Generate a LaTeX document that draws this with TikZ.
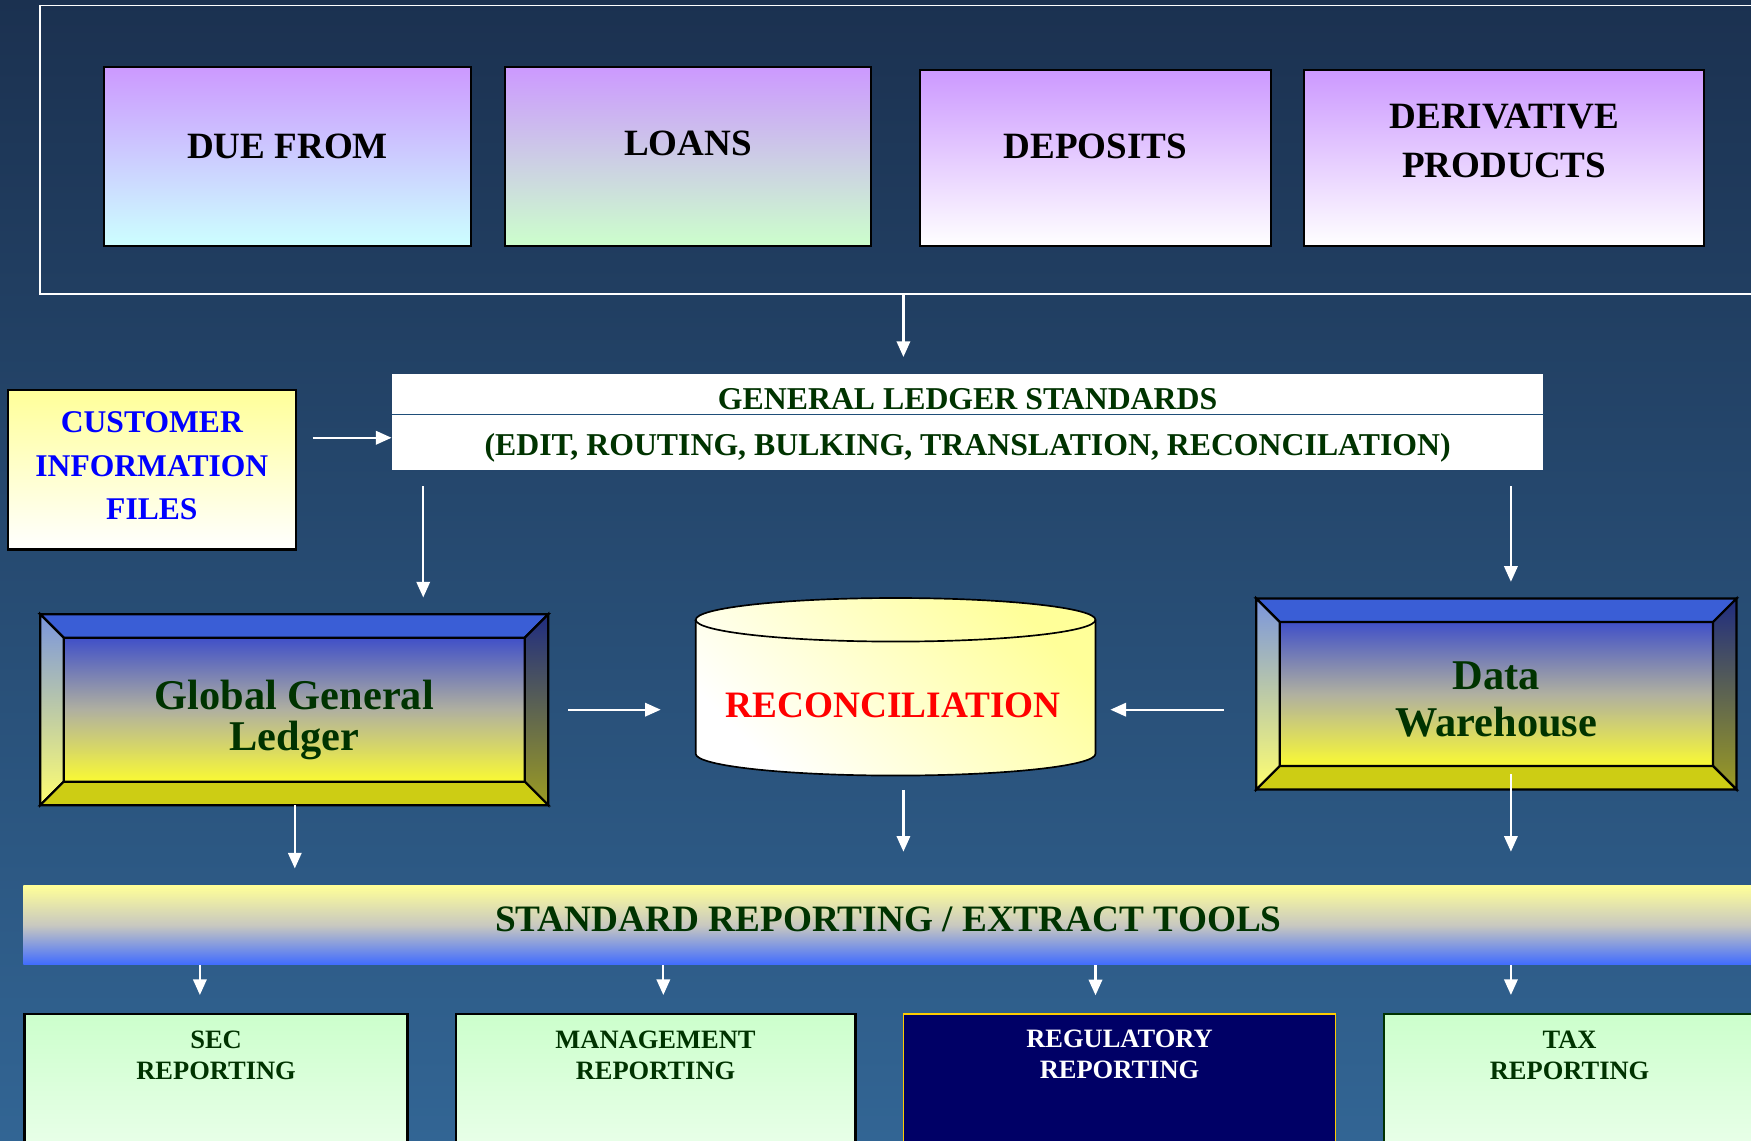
\documentclass[tikz,border=0pt]{standalone}
\usepackage{fontspec}
\setmainfont{Liberation Serif}
\usetikzlibrary{arrows.meta}

\definecolor{bgtop}{HTML}{1B3150}
\definecolor{bgbot}{HTML}{326594}
\definecolor{lilac}{HTML}{CC99FF}
\definecolor{ltcyan}{HTML}{CCFFFF}
\definecolor{ltgreen}{HTML}{CCFFCC}
\definecolor{ltyellow}{HTML}{FFFF99}
\definecolor{txtgreen}{HTML}{003300}
\definecolor{navy}{HTML}{000066}
\definecolor{gold}{HTML}{FFCC00}
\definecolor{splitline}{HTML}{1F4E79}
\definecolor{bevblue}{HTML}{3A5ED6}
\definecolor{bevlight}{HTML}{7A95DD}
\definecolor{bevdark}{HTML}{1F2C80}
\definecolor{bevolive}{HTML}{9C9C22}
\definecolor{bevyellow}{HTML}{FFFF70}
\definecolor{bevbottom}{HTML}{CDCD14}
\definecolor{innerblue}{HTML}{4050C8}
\definecolor{innermid}{HTML}{B0B0A0}
\definecolor{inneryellow}{HTML}{FAFA33}
\definecolor{barblue}{HTML}{3F6BFF}
\definecolor{barmid}{HTML}{C8C8C0}

\begin{document}
\begin{tikzpicture}[x=0.2mm, y=-0.2mm,
  arr/.style={draw=white, line width=0.4mm, -{Triangle[width=2.4mm,length=2.8mm]}},
  frame/.style={draw=white, line width=0.3mm, minimum width=312.8mm, minimum height=51.6mm},
  topbox/.style={draw=black, line width=0.4mm, top color=lilac, inner sep=0pt, align=center,
    font=\fontsize{18.9}{25}\selectfont\bfseries},
  bevbox/.style={draw=black, line width=0.4mm, top color=innerblue, bottom color=inneryellow,
    middle color=innermid, minimum height=25.8mm, outer sep=4.2mm, inner sep=0pt, align=center,
    text=txtgreen, text depth=0pt},
  bevel/.style={draw=black, line width=0.4mm},
  botbox/.style={draw=black, line width=0.4mm, minimum height=42.4mm, inner sep=0pt, align=center,
    text=txtgreen, text depth=27.6mm, font=\fontsize{13.5}{16}\selectfont\bfseries},
  greenfill/.style={top color=ltgreen, bottom color=white}
]
\useasboundingbox (0,0) rectangle (1568,1021);
\clip (0,0) rectangle (1568,1021);
\shade[top color=bgtop, bottom color=bgbot] (0,0) rectangle (1568,1021);

%source products
\node[frame] (src) at (818,134) {};
\node[topbox, bottom color=ltcyan, minimum width=65.8mm, minimum height=32mm, text depth=3.6mm] (duefrom) at (257.5,140) {DUE FROM};
\node[topbox, bottom color=ltgreen, minimum width=65.6mm, minimum height=32mm, text depth=4.8mm] (loans) at (616,140) {LOANS};
\node[topbox, bottom color=white, minimum width=62.8mm, minimum height=31.4mm, text depth=4.2mm] (deposits) at (981,141.5) {DEPOSITS};
\node[topbox, bottom color=white, minimum width=71.6mm, minimum height=31.4mm, text depth=6.2mm] (deriv) at (1347,141.5) {DERIVATIVE\\PRODUCTS};

%standards
\node[fill=white, minimum width=206.2mm, minimum height=17.2mm, inner sep=0pt, align=center, text=txtgreen,
  text depth=0pt, font=\fontsize{16.2}{23.3}\selectfont\bfseries] (gls) at (866.5,378)
  {GENERAL LEDGER STANDARDS\\(EDIT, ROUTING, BULKING, TRANSLATION, RECONCILATION)};
\draw[splitline, line width=0.2mm] (gls.west |- 0,371) -- (gls.east |- 0,371);
\node[draw=black, line width=0.4mm, top color=ltyellow, bottom color=white, minimum width=51.6mm,
  minimum height=28.6mm, inner sep=0pt, align=center, text=blue, text depth=1.4mm,
  font=\fontsize{16.1}{22.2}\selectfont\bfseries] (cif) at (136,420.5) {CUSTOMER\\INFORMATION\\FILES};

%ledger, reconciliation, warehouse
\node[bevbox, minimum width=82.6mm, font=\fontsize{21.6}{21}\selectfont\bfseries] (ggl) at (263.5,635.5) {\rule{0pt}{20.3pt}Global General\\Ledger};
\node[bevbox, minimum width=77.6mm, font=\fontsize{21.6}{23.9}\selectfont\bfseries] (dw) at (1340,621.5) {\rule{0pt}{18.9pt}Data\\Warehouse};
\foreach \b in {ggl,dw}{
  \path[bevel, fill=bevblue] (\b.north west) -- (\b.north east) -- ([shift={(-21,21)}]\b.north east)
    -- ([shift={(21,21)}]\b.north west) -- cycle;
  \path[bevel, top color=bevlight, bottom color=bevyellow] (\b.north west) -- ([shift={(21,21)}]\b.north west)
    -- ([shift={(21,-21)}]\b.south west) -- (\b.south west) -- cycle;
  \path[bevel, top color=bevdark, bottom color=bevolive] (\b.north east) -- ([shift={(-21,21)}]\b.north east)
    -- ([shift={(-21,-21)}]\b.south east) -- (\b.south east) -- cycle;
  \path[bevel, fill=bevbottom] (\b.south west) -- ([shift={(21,-21)}]\b.south west)
    -- ([shift={(-21,-21)}]\b.south east) -- (\b.south east) -- cycle;
}
\path[draw=black, line width=0.3mm, top color=ltyellow, bottom color=white, shading angle=-45]
  (623,555) -- (623,675) arc[start angle=180, end angle=360, x radius=35.8mm, y radius=3.9mm]
  -- (981,555) arc[start angle=0, end angle=180, x radius=35.8mm, y radius=3.9mm] -- cycle;
\draw[line width=0.3mm] (623,555) arc[start angle=180, end angle=360, x radius=35.8mm, y radius=3.9mm];
\node[minimum width=71.6mm, minimum height=31.6mm, text height=11.2mm, inner sep=0pt, text=red,
  font=\fontsize{19}{20}\selectfont\bfseries] (rec) at (800,615) {RECONCILIATION};

%reporting
\node[top color=ltyellow, bottom color=barblue, middle color=barmid, minimum width=309.8mm,
  minimum height=14.2mm, inner sep=0pt, text=txtgreen, text depth=2.2mm,
  font=\fontsize{19}{20}\selectfont\bfseries] (srt) at (795.5,828.5) {STANDARD REPORTING / EXTRACT TOOLS};
\node[botbox, greenfill, minimum width=68.6mm] (sec) at (193.5,1014) {SEC\\REPORTING};
\node[botbox, greenfill, minimum width=71.6mm] (mgmt) at (587,1014) {MANAGEMENT\\REPORTING};
\node[botbox, draw=gold, line width=0.3mm, fill=navy, text=white, text depth=28mm, minimum width=77.4mm] (reg) at (1002.5,1014) {REGULATORY\\REPORTING};
\node[botbox, greenfill, draw=txtgreen, minimum width=66.6mm] (tax) at (1405.5,1014) {TAX\\REPORTING};

%arrows
\draw[arr, shorten >=3mm] (src.south -| 809,0) -- (gls.north -| 809,0);
\draw[arr, shorten <=2.8mm] (cif.east |- 0,392) -- (gls.west |- 0,392);
\draw[arr, shorten <=2.8mm, shorten >=3mm] (gls.south -| 379,0) -- (ggl.north -| 379,0);
\draw[arr, shorten <=2.8mm, shorten >=3mm] (gls.south -| 1353,0) -- (dw.north -| 1353,0);
\draw[arr, shorten <=3.6mm, shorten >=5.8mm] (ggl.east) -- (ggl.east -| rec.west);
\draw[arr, shorten <=5.8mm, shorten >=3mm] (dw.west |- ggl.east) -- (rec.east |- ggl.east);
\draw[arr, shorten >=3mm] (ggl.south -| 264,0) -- (srt.north -| 264,0);
\draw[arr, shorten <=2.6mm, shorten >=6mm] (rec.south -| 809,0) -- (srt.north -| 809,0);
\draw[arr, shorten <=-2.8mm, shorten >=6mm] (dw.south -| 1353,0) -- (srt.north -| 1353,0);
\foreach \b/\x in {sec/179,mgmt/594,reg/981,tax/1353}
  \draw[arr, shorten >=3.2mm] (srt.south -| \x,0) -- (\b.north -| \x,0);
\end{tikzpicture}
\end{document}
